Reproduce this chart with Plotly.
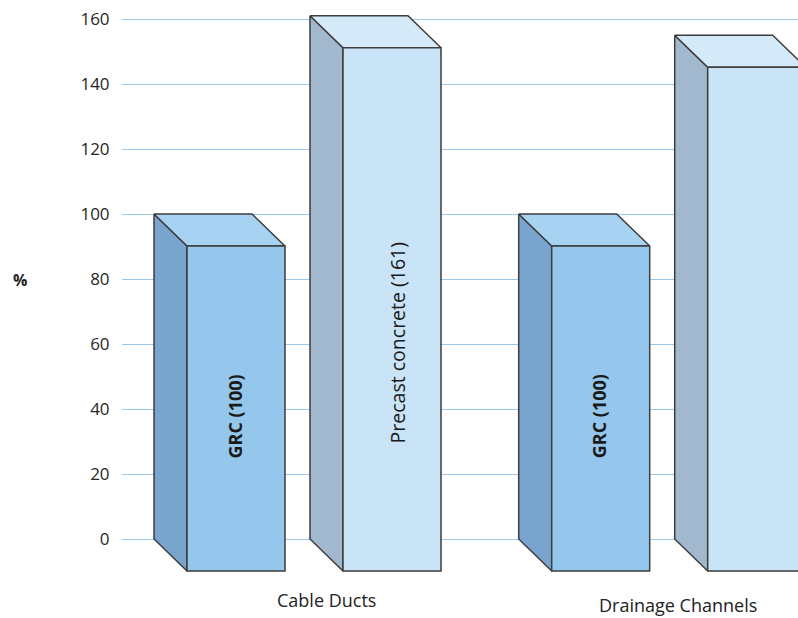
import plotly.graph_objects as go

# ---- data ----
categories = ["Cable Ducts", "Drainage Channels"]
series_names = ["GRC", "Precast concrete"]
grc_values = [100, 100]
precast_values = [161, 155]
grc_labels = ["GRC (100)", "GRC (100)"]
precast_labels = ["Precast concrete (161)", ""]
y_ticks = [0, 20, 40, 60, 80, 100, 120, 140, 160]

# ---- geometry / style ----
PX_Y = 3.25          # pixels per value unit
PX_X = 364.7         # pixels per category step
DEPTH_X = 33 / PX_X  # 3D depth offset in x units
DEPTH_Y = 32 / PX_Y  # 3D depth offset in value units
BAR_W = 98 / PX_X
SERIES_OFFSET = [-143 / PX_X, 13 / PX_X]

styles = [
    dict(front="#95C6EB", side="#78A4CE", top="#A7D2F1", bold=True, size=18, shift=(-2, -8)),
    dict(front="#C8E4F6", side="#A1B8CF", top="#D4EAF8", bold=False, size=19.5, shift=(5, -34)),
]
EDGE = "#3d3d3d"

fig = go.Figure()
annotations = []

all_series = [(grc_values, grc_labels), (precast_values, precast_labels)]
for ci, cat in enumerate(categories):
    for si, (vals, labels) in enumerate(all_series):
        v = vals[ci]
        st = styles[si]
        xb = ci + SERIES_OFFSET[si]
        # left side face
        fig.add_trace(go.Scatter(
            x=[xb, xb + DEPTH_X, xb + DEPTH_X, xb, xb],
            y=[v, v - DEPTH_Y, -DEPTH_Y, 0, v],
            fill="toself", fillcolor=st["side"], mode="lines",
            line=dict(color=EDGE, width=1.5), hoverinfo="skip", showlegend=False))
        # top face
        fig.add_trace(go.Scatter(
            x=[xb, xb + BAR_W, xb + BAR_W + DEPTH_X, xb + DEPTH_X, xb],
            y=[v, v, v - DEPTH_Y, v - DEPTH_Y, v],
            fill="toself", fillcolor=st["top"], mode="lines",
            line=dict(color=EDGE, width=1.5), hoverinfo="skip", showlegend=False))
        # front face
        fx0, fx1 = xb + DEPTH_X, xb + DEPTH_X + BAR_W
        fig.add_trace(go.Scatter(
            x=[fx0, fx1, fx1, fx0, fx0],
            y=[v - DEPTH_Y, v - DEPTH_Y, -DEPTH_Y, -DEPTH_Y, v - DEPTH_Y],
            fill="toself", fillcolor=st["front"], mode="lines",
            line=dict(color=EDGE, width=1.5), hoverinfo="skip", showlegend=False))
        lab = labels[ci]
        if lab:
            txt = f"<b>{lab}</b>" if st["bold"] else lab
            annotations.append(dict(
                x=(fx0 + fx1) / 2, y=(v - DEPTH_Y - DEPTH_Y) / 2,
                xref="x", yref="y", text=txt, textangle=-90, showarrow=False,
                xshift=st["shift"][0], yshift=st["shift"][1],
                font=dict(family="Open Sans", size=st["size"], color="#1a1a1a")))

# category labels
cat_shift = [(29, -29), (16, -34)]
for ci, cat in enumerate(categories):
    annotations.append(dict(
        x=ci, y=-DEPTH_Y, xref="x", yref="y", text=cat, showarrow=False,
        xshift=cat_shift[ci][0], yshift=cat_shift[ci][1],
        font=dict(family="Open Sans", size=18, color="#222222")))

PLOT_W = 798 - 122
PLOT_H = 590 - 5
annotations.append(dict(
    x=(11 - 122) / PLOT_W, y=(590 - 280) / PLOT_H, xref="paper", yref="paper",
    text="<b>%</b>", showarrow=False,
    font=dict(family="Open Sans", size=16, color="#222222")))

y_top = 539 - 5
y_bot = 590 - 539
fig.update_layout(
    width=798, height=618,
    margin=dict(l=122, r=0, t=5, b=28),
    paper_bgcolor="white", plot_bgcolor="white",
    showlegend=False,
    annotations=annotations,
    xaxis=dict(range=[(122 - 297) / PX_X, (798 - 297) / PX_X], visible=False,
               showgrid=False, zeroline=False, fixedrange=True),
    yaxis=dict(range=[-y_bot / PX_Y, y_top / PX_Y], tickvals=y_ticks,
               showgrid=True, gridcolor="#9DC8EC", gridwidth=1.2,
               zeroline=False, showline=False, ticks="outside", ticklen=8,
               tickcolor="rgba(0,0,0,0)",
               tickfont=dict(family="Open Sans", size=17, color="#262626")),
)

fig.write_html("out.html")
